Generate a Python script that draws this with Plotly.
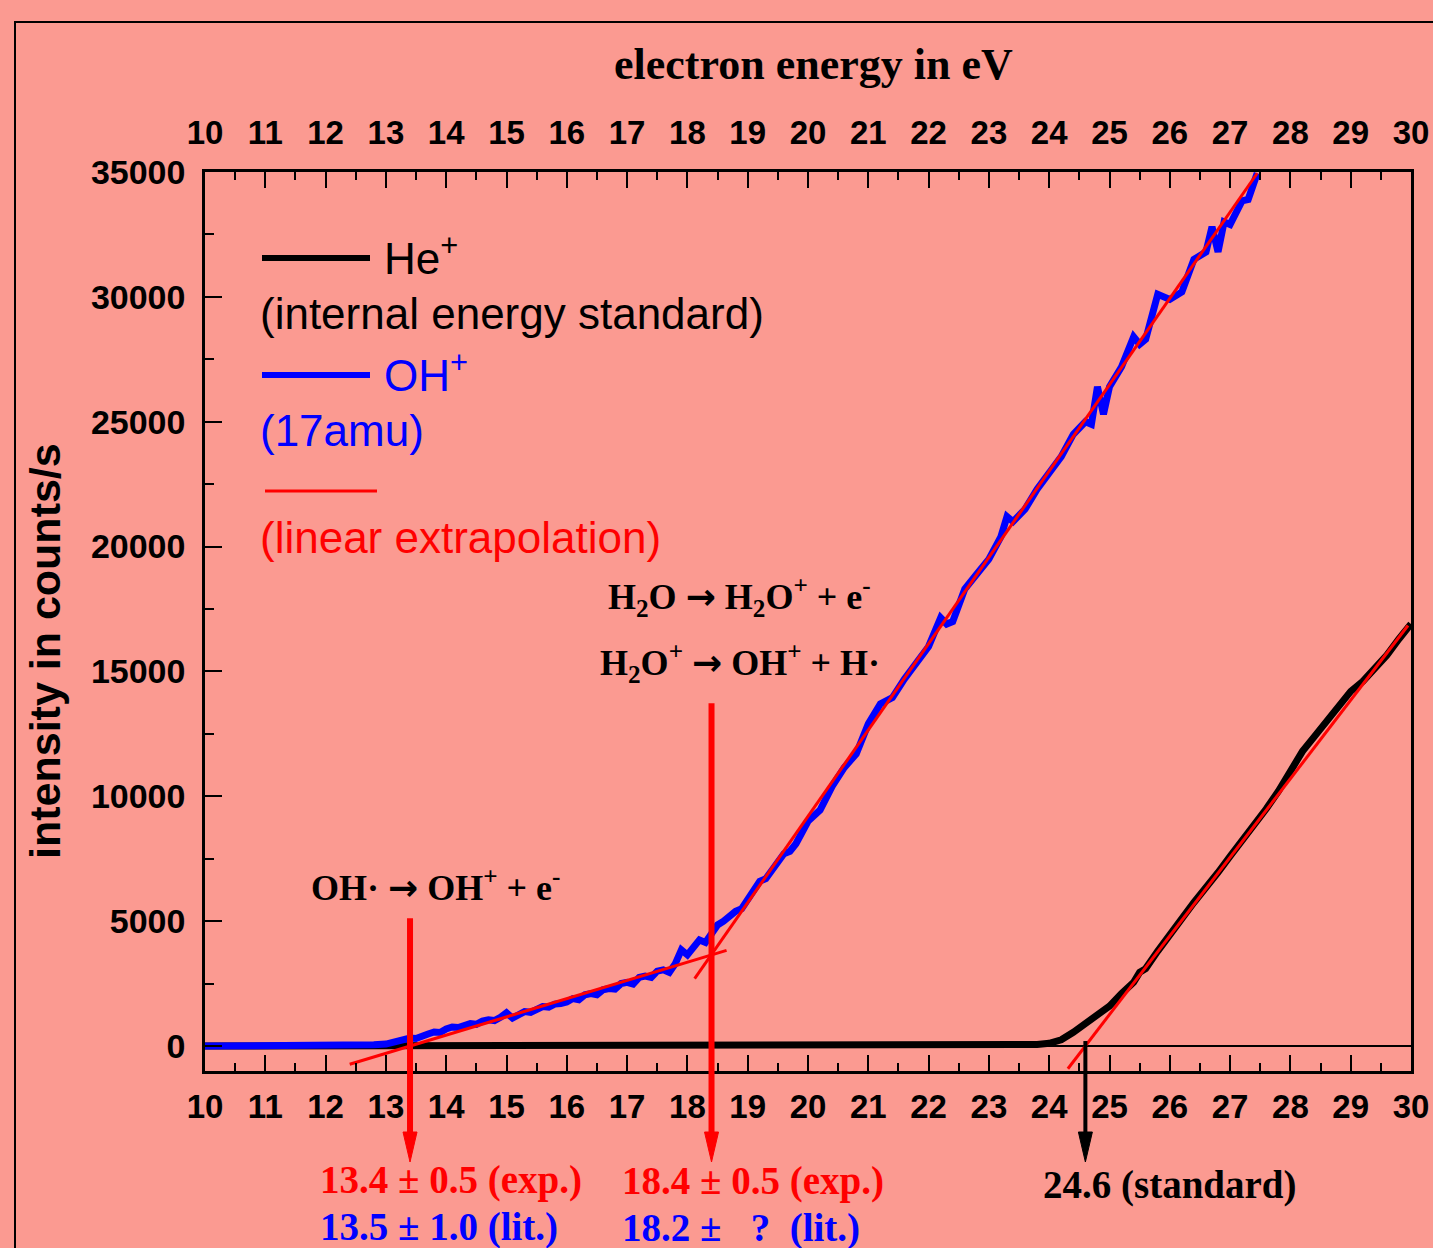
import plotly.graph_objects as go

# ---------------- data ----------------
oh_x = [10.0, 10.5, 11.0, 11.5, 12.0, 12.4, 12.6, 12.8, 13.0, 13.1, 13.2, 13.3, 13.4, 13.5, 13.6, 13.7,
        13.8, 13.9, 14.0, 14.1, 14.2, 14.3, 14.4, 14.5, 14.6, 14.7, 14.8, 14.9, 15.0, 15.1, 15.2, 15.3,
        15.4, 15.5, 15.6, 15.7, 15.8, 15.9, 16.0, 16.1, 16.2, 16.3, 16.4, 16.5, 16.6, 16.7, 16.8, 16.9,
        17.0, 17.1, 17.2, 17.3, 17.4, 17.5, 17.6, 17.7, 17.8, 17.9, 18.0, 18.1, 18.2, 18.3, 18.4, 18.5,
        18.6, 18.8, 18.9, 19.0, 19.2, 19.3, 19.4, 19.6, 19.7, 19.8, 20.0, 20.2, 20.4, 20.6, 20.8, 21.0,
        21.2, 21.4, 21.6, 21.8, 22.0, 22.2, 22.3, 22.4, 22.6, 22.8, 23.0, 23.2, 23.3, 23.4, 23.6, 23.8,
        24.0, 24.2, 24.4, 24.6, 24.7, 24.8, 24.9, 25.0, 25.2, 25.4, 25.5, 25.6, 25.8, 26.0, 26.2, 26.4,
        26.6, 26.7, 26.8, 26.9, 27.0, 27.2, 27.3, 27.45]
oh_y = [0, 0, 0, 0, 10, 20, 30, 50, 80, 150, 200, 230, 320, 300, 420, 480,
        560, 540, 680, 760, 740, 820, 900, 870, 1000, 1050, 1020, 1150, 1330, 1120, 1250, 1380,
        1350, 1500, 1580, 1560, 1680, 1700, 1760, 1900, 1850, 2050, 2100, 2050, 2250, 2300, 2280, 2500,
        2550, 2480, 2750, 2800, 2750, 3000, 3050, 2950, 3300, 3850, 3650, 3950, 4250, 4150, 4500, 4850,
        5000, 5400, 5500, 5900, 6600, 6700, 7000, 7700, 7800, 8100, 9000, 9450, 10400, 11150, 11700, 12900,
        13700, 13950, 14700, 15400, 16000, 17150, 16900, 17000, 18300, 18900, 19500, 20400, 21200, 21000, 21500, 22300,
        22900, 23600, 24500, 25000, 24900, 26400, 25300, 26400, 27200, 28400, 28100, 28300, 30100, 29900, 30200, 31500,
        31800, 32800, 31800, 33000, 32900, 33850, 33900, 34950]

he_x = [10.0, 12.0, 14.0, 16.0, 18.0, 20.0, 22.0, 23.0, 23.6, 23.8, 24.0, 24.2, 24.4, 24.6, 24.8, 25.0,
        25.2, 25.4, 25.5, 25.6, 25.8, 26.0, 26.2, 26.4, 26.6, 26.8, 27.0, 27.2, 27.4, 27.6, 27.8, 28.0,
        28.1, 28.2, 28.4, 28.6, 28.8, 29.0, 29.2, 29.4, 29.6, 29.8, 30.0]
he_y = [0, 0, 0, 0, 0, 0, 0, 10, 30, 60, 110, 250, 550, 900, 1250, 1600,
        2100, 2550, 2950, 3100, 3800, 4400, 5100, 5750, 6300, 6950, 7600, 8200, 8850, 9500, 10200, 10950,
        11450, 11800, 12400, 13000, 13650, 14200, 14600, 15100, 15650, 16300, 16900]

# linear extrapolation lines (end points)
fit1_x = [12.4, 18.65]
fit1_y = [-730, 3830]
fit2_x = [18.12, 27.45]
fit2_y = [2700, 34950]
fit3_x = [24.31, 29.95]
fit3_y = [-910, 16840]

# threshold arrows
arrow_x = [13.4, 18.4, 24.6]
arrow_from = [5120, 13730, 200]
arrow_color = ["#FF0000", "#FF0000", "#000000"]
arrow_width = [6, 6, 4]

x_ticks = list(range(10, 31))
y_ticks = [0, 5000, 10000, 15000, 20000, 25000, 30000, 35000]

XMIN, XMAX = 10, 30
YMIN, YMAX = -1000, 35000

# ---------------- layout geometry ----------------
W, H = 1433, 1248
L, R, T, B = 205, 1411, 172, 1071
PW, PH = R - L, B - T
BG = "#FB9A91"
SANS = "Liberation Sans, Arial, sans-serif"
SERIF = "Liberation Serif, Times New Roman, serif"
ARROW = '<span style="font-family:DejaVu Sans">→</span>'


def pxx(xp):
    return (xp - L) / PW


def pxy(yp):
    return (B - yp) / PH


def yval2paper(v):
    return (v - YMIN) / (YMAX - YMIN)


fig = go.Figure()
fig.add_trace(go.Scatter(x=he_x, y=he_y, mode="lines", line=dict(color="black", width=7),
                         name="He+", showlegend=False))
fig.add_trace(go.Scatter(x=oh_x, y=oh_y, mode="lines", line=dict(color="#0000FF", width=7),
                         name="OH+", showlegend=False))
for fx, fy in [(fit1_x, fit1_y), (fit2_x, fit2_y), (fit3_x, fit3_y)]:
    fig.add_trace(go.Scatter(x=fx, y=fy, mode="lines", line=dict(color="#FF0000", width=3),
                             showlegend=False, name="linear extrapolation"))
# invisible trace on top axis
fig.add_trace(go.Scatter(x=[10, 30], y=[None, None], xaxis="x2", mode="lines", showlegend=False,
                         hoverinfo="skip"))

xtickfont = dict(family=SANS, size=33, color="black", weight="bold")
ytickfont = dict(family=SANS, size=34, color="black", weight="bold")
common_x = dict(range=[XMIN, XMAX], tickvals=x_ticks, ticktext=[str(v) for v in x_ticks],
                ticks="inside", ticklen=16, tickwidth=2, tickcolor="black",
                minor=dict(dtick=0.5, tick0=10, ticks="inside", ticklen=8, tickwidth=2, tickcolor="black"),
                showline=True, linecolor="black", linewidth=2.5, showgrid=False, zeroline=False,
                tickfont=xtickfont, automargin=False, ticklabeloverflow="allow")

fig.update_layout(
    width=W, height=H,
    margin=dict(l=L, r=W - R, t=T, b=H - B, pad=0, autoexpand=False),
    paper_bgcolor=BG, plot_bgcolor=BG,
    showlegend=False,
    xaxis=dict(**common_x, side="bottom", mirror=False, ticklabelstandoff=5),
    xaxis2=dict(**common_x, side="top", overlaying="x", anchor="y", ticklabelstandoff=12),
    yaxis=dict(range=[YMIN, YMAX], tickvals=y_ticks, ticktext=[str(v) for v in y_ticks],
               ticks="inside", ticklen=17, tickwidth=2, tickcolor="black",
               minor=dict(dtick=2500, tick0=0, ticks="inside", ticklen=9, tickwidth=2, tickcolor="black"),
               showline=True, linecolor="black", linewidth=2.5, mirror=True, showgrid=False,
               zeroline=True, zerolinecolor="black", zerolinewidth=2,
               tickfont=ytickfont, ticklabelstandoff=10, automargin=False),
)

shapes = []
# outer frame
shapes.append(dict(type="rect", xref="paper", yref="paper", x0=pxx(15), x1=pxx(1470), y0=pxy(1275), y1=pxy(22),
                   line=dict(color="black", width=2), fillcolor="rgba(0,0,0,0)", layer="below"))
# legend samples
shapes.append(dict(type="line", xref="paper", yref="paper", x0=pxx(262), x1=pxx(370), y0=pxy(258), y1=pxy(258),
                   line=dict(color="black", width=6)))
shapes.append(dict(type="line", xref="paper", yref="paper", x0=pxx(262), x1=pxx(370), y0=pxy(375), y1=pxy(375),
                   line=dict(color="#0000FF", width=6)))
shapes.append(dict(type="line", xref="paper", yref="paper", x0=pxx(265), x1=pxx(377), y0=pxy(491), y1=pxy(491),
                   line=dict(color="#FF0000", width=3)))

# arrows
tip = pxy(1162)
head_len = 30 / PH
head_half = 7 / PW * (XMAX - XMIN)
for ax_, av, col, wd in zip(arrow_x, arrow_from, arrow_color, arrow_width):
    shapes.append(dict(type="line", xref="x", yref="paper", x0=ax_, x1=ax_, y0=yval2paper(av), y1=tip + head_len * 0.8,
                       line=dict(color=col, width=wd), layer="above"))
    shapes.append(dict(type="path", xref="x", yref="paper",
                       path=f"M {ax_ - head_half},{tip + head_len} L {ax_ + head_half},{tip + head_len} L {ax_},{tip} Z",
                       fillcolor=col, line=dict(color=col, width=1), layer="above"))
fig.update_layout(shapes=shapes)

ann = []


def text(xp, yp, s, color, family, size, weight="normal", anchor="left", angle=0):
    ann.append(dict(xref="paper", yref="paper", x=pxx(xp), y=pxy(yp), text=s, showarrow=False,
                    xanchor=anchor, yanchor="middle", textangle=angle,
                    font=dict(family=family, size=size, color=color, weight=weight)))


# axis titles
text(813, 64, "electron energy in eV", "black", SERIF, 44, "bold", anchor="center")
text(45, 651, "intensity in counts/s", "black", SANS, 43, "bold", anchor="center", angle=-90)

# legend texts
text(382, 255, "He<sup>+</sup>", "black", SANS, 44)
text(258, 313, "(internal energy standard)", "black", SANS, 44)
text(382, 372, "OH<sup>+</sup>", "#0000FF", SANS, 44)
text(258, 430, "(17amu)", "#0000FF", SANS, 44)
text(258, 537, "(linear extrapolation)", "#FF0000", SANS, 44)

# reaction labels
text(309, 885, f"OH· {ARROW} OH<sup>+</sup> + e<sup>-</sup>", "black", SERIF, 36, "bold")
text(606, 597, f"H<sub>2</sub>O {ARROW} H<sub>2</sub>O<sup>+</sup> + e<sup>-</sup>", "black", SERIF, 36, "bold")
text(598, 663, f"H<sub>2</sub>O<sup>+</sup> {ARROW} OH<sup>+</sup> + H·", "black", SERIF, 36, "bold")

# results
text(318, 1180, "13.4 ± 0.5 (exp.)", "#FF0000", SERIF, 39, "bold")
text(318, 1227, "13.5 ± 1.0 (lit.)", "#0000FF", SERIF, 39, "bold")
text(620, 1181, "18.4 ± 0.5 (exp.)", "#FF0000", SERIF, 39, "bold")
text(620, 1228, "18.2 ±\u00a0\u00a0 ?\u00a0\u00a0(lit.)", "#0000FF", SERIF, 39, "bold")
text(1041, 1185, "24.6 (standard)", "black", SERIF, 39, "bold")

fig.update_layout(annotations=ann)

fig.write_html("out.html")
